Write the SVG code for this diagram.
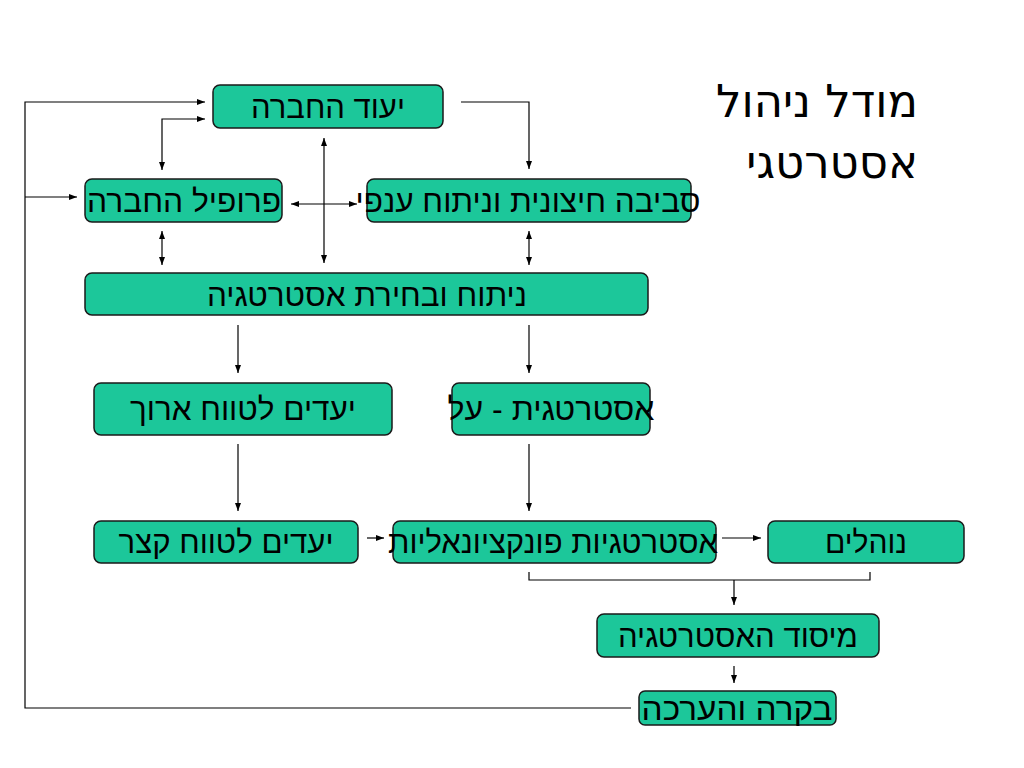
<svg xmlns="http://www.w3.org/2000/svg" width="1024" height="768" viewBox="0 0 1024 768">
<defs>
<marker id="ah" viewBox="0 0 8 6" refX="8" refY="3" markerWidth="8" markerHeight="6" markerUnits="userSpaceOnUse" orient="auto-start-reverse">
<path d="M0,0 L8,3 L0,6 z" fill="#000"/>
</marker>
<style>
.box{fill:#1CC79A;stroke:#1a1a1a;stroke-width:1.5}
.lbl{font-family:"Liberation Sans","DejaVu Sans",sans-serif;font-size:31px;fill:#000;text-anchor:middle}
.ttl{font-family:"DejaVu Sans","Liberation Sans",sans-serif;font-size:45px;fill:#000;text-anchor:end}
.c{fill:none;stroke:#000;stroke-width:1.2}
.a{marker-end:url(#ah)}
.b{marker-start:url(#ah);marker-end:url(#ah)}
</style>
</defs>
<rect width="1024" height="768" fill="#fff"/>
<g id="title">
<text class="ttl" x="918" y="117" textLength="202" lengthAdjust="spacingAndGlyphs">מודל ניהול</text>
<text class="ttl" x="918" y="178">אסטרטגי</text>
</g>
<g id="connectors">
<path class="c a" d="M631,708 H25 V102 H205"/>
<path class="c a" d="M25,197 H77"/>
<path class="c b" d="M162,170 V119 H205"/>
<path class="c a" d="M461,102 H529 V169"/>
<path class="c b" d="M291,204 H357"/>
<path class="c b" d="M324,138 V263"/>
<path class="c b" d="M162,231 V265"/>
<path class="c b" d="M529,231 V265"/>
<path class="c a" d="M238,325 V373"/>
<path class="c a" d="M529,325 V373"/>
<path class="c a" d="M238,444 V511"/>
<path class="c a" d="M529,444 V511"/>
<path class="c a" d="M367,538 H384"/>
<path class="c a" d="M722,538 H761"/>
<path class="c" d="M529,572 V580 H870 V572"/>
<path class="c a" d="M734,580 V605"/>
<path class="c a" d="M734,666 V683"/>
</g>
<g id="n1"><rect class="box" x="213" y="85" width="230" height="43" rx="7"/><text class="lbl" x="328" y="118" textLength="154" lengthAdjust="spacingAndGlyphs">יעוד החברה</text></g>
<g id="n2"><rect class="box" x="85" y="179" width="197" height="43" rx="7"/><text class="lbl" x="184" y="212" textLength="194" lengthAdjust="spacingAndGlyphs">פרופיל החברה</text></g>
<g id="n3"><rect class="box" x="367" y="179" width="324" height="43" rx="7"/><text class="lbl" x="528" y="212" textLength="345" lengthAdjust="spacingAndGlyphs">סביבה חיצונית וניתוח ענפי</text></g>
<g id="n4"><rect class="box" x="85" y="273" width="563" height="42" rx="7"/><text class="lbl" x="367" y="306" textLength="320" lengthAdjust="spacingAndGlyphs">ניתוח ובחירת אסטרטגיה</text></g>
<g id="n5"><rect class="box" x="94" y="383" width="298" height="52" rx="7"/><text class="lbl" x="243" y="420" textLength="226" lengthAdjust="spacingAndGlyphs">יעדים לטווח ארוך</text></g>
<g id="n6"><rect class="box" x="452" y="383" width="198" height="52" rx="7"/><text class="lbl" x="551" y="420" textLength="207" lengthAdjust="spacingAndGlyphs">אסטרטגית - על</text></g>
<g id="n7"><rect class="box" x="94" y="521" width="264" height="42" rx="7"/><text class="lbl" x="226" y="553" textLength="215" lengthAdjust="spacingAndGlyphs">יעדים לטווח קצר</text></g>
<g id="n8"><rect class="box" x="393" y="521" width="323" height="42" rx="7"/><text class="lbl" x="553" y="553" textLength="330" lengthAdjust="spacingAndGlyphs">אסטרטגיות פונקציונאליות</text></g>
<g id="n9"><rect class="box" x="768" y="521" width="196" height="42" rx="7"/><text class="lbl" x="866" y="553" textLength="82" lengthAdjust="spacingAndGlyphs">נוהלים</text></g>
<g id="n10"><rect class="box" x="597" y="614" width="282" height="43" rx="7"/><text class="lbl" x="738" y="647" textLength="240" lengthAdjust="spacingAndGlyphs">מיסוד האסטרטגיה</text></g>
<g id="n11"><rect class="box" x="639" y="691" width="197" height="34" rx="6"/><text class="lbl" x="737" y="720" textLength="191" lengthAdjust="spacingAndGlyphs">בקרה והערכה</text></g>
</svg>
